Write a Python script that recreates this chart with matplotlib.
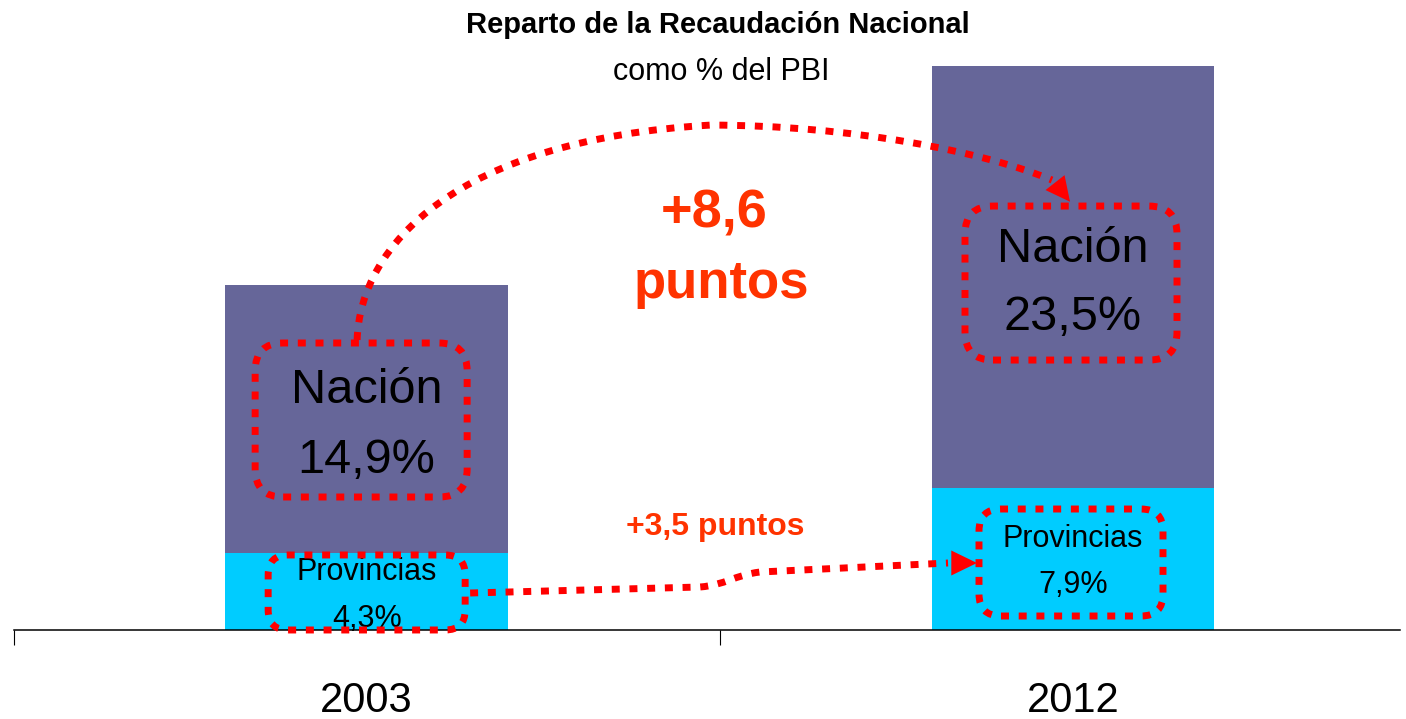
import matplotlib
matplotlib.use("Agg")
import matplotlib.pyplot as plt
from matplotlib.patches import FancyBboxPatch, PathPatch, FancyArrowPatch
from matplotlib.path import Path
from matplotlib.transforms import ScaledTranslation
from matplotlib.ticker import FixedLocator
import numpy as np

# ---------------- data ----------------
years = ["2003", "2012"]
provincias = [4.3, 7.9]
nacion = [14.9, 23.5]
prov_labels = ["4,3%", "7,9%"]
nac_labels = ["14,9%", "23,5%"]
title = "Reparto de la Recaudación Nacional"
subtitle = "como % del PBI"
delta_nac_1 = "+8,6"
delta_nac_2 = "puntos"
delta_prov = "+3,5 puntos"

# ---------------- style ----------------
C_NAC = "#666699"
C_PROV = "#00CCFF"
C_RED = "#FF0000"
C_ORANGE = "#FF3300"
FONT = ["Liberation Sans", "DejaVu Sans"]
plt.rcParams["font.family"] = FONT

fig = plt.figure(figsize=(14.06, 7.19), dpi=100)
ax = fig.add_axes([13.5 / 1406, 89 / 719, (1400 - 13.5) / 1406, 630 / 719])

x = np.arange(len(years))
ax.bar(x, provincias, width=0.40, color=C_PROV, zorder=2)
ax.bar(x, nacion, width=0.40, bottom=provincias, color=C_NAC, zorder=2)

ax.set_xlim(-0.5, 1.463)
ax.set_ylim(0, 35.1)
for s in ["top", "right", "left"]:
    ax.spines[s].set_visible(False)
ax.spines["bottom"].set_linewidth(1.1)
ax.set_yticks([])
ax.set_xticks(x)
ax.set_xticklabels(years, fontsize=30)
ax.tick_params(axis="x", which="major", length=0, pad=37)
ax.xaxis.set_minor_locator(FixedLocator([-0.5, 0.5]))
ax.tick_params(axis="x", which="minor", length=11, width=0.8, direction="out")

# ---------------- titles ----------------
fig.text(718 / 1406, 1 - 33 / 719, title, ha="center", va="baseline",
         fontsize=21, fontweight="bold", color="black")
fig.text(721 / 1406, 1 - 80 / 719, subtitle, ha="center", va="baseline",
         fontsize=22, color="black")

# ---------------- value labels ----------------
nac_name_y = [12.65, 20.50]
nac_val_y = [8.75, 16.71]
prov_name_y = [2.79, 4.62]
prov_val_y = [0.17, 2.06]
for i in range(len(years)):
    ax.text(x[i], nac_name_y[i], "Nación", ha="center", va="baseline",
            fontsize=35, color="black", zorder=5)
    ax.text(x[i], nac_val_y[i], nac_labels[i], ha="center", va="baseline",
            fontsize=35, color="black", zorder=5)
    ax.text(x[i], prov_name_y[i], "Provincias", ha="center", va="baseline",
            fontsize=22, color="black", zorder=5)
    ax.text(x[i], prov_val_y[i], prov_labels[i], ha="center", va="baseline",
            fontsize=22, color="black", zorder=5)

ax.text(0.4926, 22.40, delta_nac_1, ha="center", va="baseline", fontsize=39,
        fontweight="bold", color=C_ORANGE)
ax.text(0.5018, 18.50, delta_nac_2, ha="center", va="baseline", fontsize=38,
        fontweight="bold", color=C_ORANGE)
ax.text(0.4933, 5.29, delta_prov, ha="center", va="baseline", fontsize=23,
        fontweight="bold", color=C_ORANGE)

# ---------------- dotted rounded boxes ----------------
DOT = (0, (1.15, 1.4))
LW = 5
boxes = [  # (x, y center in data, width, height in inches, rounding)
    (-0.0078, 11.70, 2.12, 1.54, 0.28),
    (0.9972, 19.33, 2.12, 1.54, 0.28),
    (0.0, 2.09, 1.97, 0.75, 0.20),
    (0.9972, 3.76, 1.84, 1.07, 0.22),
]
for cx, cy, w, h, r in boxes:
    tr = fig.dpi_scale_trans + ScaledTranslation(cx, cy, ax.transData)
    p = FancyBboxPatch((-w / 2, -h / 2), w, h,
                       boxstyle=f"round,pad=0,rounding_size={r}",
                       transform=tr, fill=False, edgecolor=C_RED,
                       linewidth=LW, linestyle=DOT, zorder=6, clip_on=False)
    ax.add_patch(p)

# ---------------- arrows ----------------
arc_pts = [(-0.0135, 16.16), (-0.0092, 21.4), (0.1253, 27.30), (0.4862, 28.13),
           (0.6844, 28.13), (0.8754, 26.63), (0.9703, 25.07)]
arc_codes = [Path.MOVETO] + [Path.CURVE4] * 6
ax.add_patch(PathPatch(Path(arc_pts, arc_codes), fill=False, edgecolor=C_RED,
                       linewidth=LW, linestyle=DOT, zorder=6, clip_on=False))
ax.add_patch(FancyArrowPatch((0.9749, 24.91), (0.9958, 23.86),
                             arrowstyle="-|>,head_length=1.75,head_width=0.87",
                             mutation_scale=10, color=C_RED, linewidth=0,
                             shrinkA=0, shrinkB=0, zorder=7))

prov_pts = [(0.1465, 2.061), (0.4721, 2.396), (0.5074, 2.507), (0.5216, 3.064),
            (0.5570, 3.231), (0.8231, 3.733)]
prov_codes = [Path.MOVETO, Path.LINETO, Path.CURVE4, Path.CURVE4, Path.CURVE4,
              Path.LINETO]
ax.add_patch(PathPatch(Path(prov_pts, prov_codes), fill=False, edgecolor=C_RED,
                       linewidth=LW, linestyle=DOT, zorder=6, clip_on=False))
ax.add_patch(FancyArrowPatch((0.8259, 3.733), (0.8641, 3.733),
                             arrowstyle="-|>,head_length=1.85,head_width=0.9",
                             mutation_scale=10, color=C_RED, linewidth=0,
                             shrinkA=0, shrinkB=0, zorder=7))

fig.savefig("out.png", dpi=100)
